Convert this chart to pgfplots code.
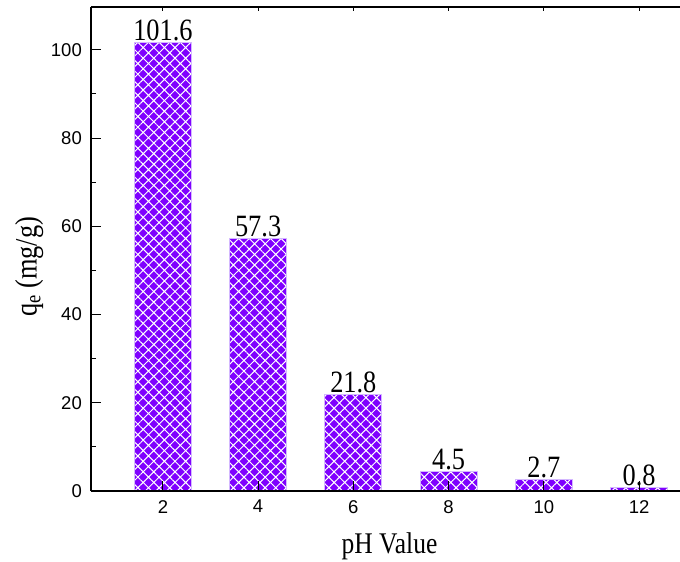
\documentclass[border=0pt]{standalone}
\usepackage{pgfplots}
\pgfplotsset{compat=1.18}
\usepackage{fontspec}
\setmainfont{Liberation Sans}
\newfontfamily\serif[FakeStretch=0.85]{Liberation Serif}
\usetikzlibrary{patterns.meta}
\definecolor{barpurple}{HTML}{7F00FF}
\definecolor{barborder}{HTML}{D4B8FF}
\begin{document}
\begin{tikzpicture}
\begin{axis}[
  name=ax,
  scale only axis,
  width=589pt, height=484pt,
  xmin=0.49, xmax=12.86,
  ymin=0, ymax=109.7,
  axis on top,
  axis x line*=box, axis y line*=left,
  xtick pos=bottom,
  xtick={2,4,6,8,10,12},
  ytick={0,20,40,60,80,100},
  minor y tick num=1,
  tick align=inside,
  major tick length=10pt,
  minor tick length=5pt,
  tick style={black, line width=1pt},
  axis line style={black, line width=1.3pt},
  /pgf/number format/assume math mode=true,
  ticklabel style={font=\fontsize{18.5}{20}\selectfont},
  xticklabel style={inner sep=0pt, anchor=north, yshift=-9pt},
  yticklabel style={inner sep=0pt, anchor=east, xshift=-9pt},
  xlabel={pH Value},
  xlabel style={font=\serif\fontsize{30}{30}\selectfont, at={(axis description cs:0.5,0)}, anchor=base, yshift=-62pt, xshift=4pt},
  ylabel={q\textsubscript{e} (mg/g)},
  ylabel style={font=\serif\fontsize{31}{31}\selectfont, at={(axis description cs:-0.105,0.463)}, anchor=center, rotate=0},
  point meta=explicit symbolic,
  nodes near coords,
  every node near coord/.style={font=\serif\fontsize{31}{31}\selectfont, anchor=south, inner sep=1pt, black},
]
\addplot[ybar, bar width=57pt, fill=barpurple, draw=barborder, line width=0.8pt,
  postaction={pattern={Hatch[angle=45,distance=7.5pt,line width=1pt]}, pattern color=white}]
  coordinates {(2,101.6)[101.6] (4,57.3)[57.3] (6,21.8)[21.8] (8,4.5)[4.5] (10,2.7)[2.7] (12,0.8)[0.8]};
\end{axis}
\begin{axis}[
  scale only axis,
  width=589pt, height=484pt,
  xmin=0.49, xmax=12.86,
  ymin=0, ymax=109.7,
  axis x line*=top, hide y axis,
  axis line style={draw=none},
  xtick={2,4,6,8,10,12}, xticklabels={},
  tick align=inside,
  major tick length=4pt,
  tick style={black, line width=1pt},
]
\addplot[draw=none] coordinates {(2,0)};
\end{axis}
\pgfresetboundingbox
\path ([shift={(-91pt,-71pt)}]ax.south west) rectangle ([shift={(0pt,7pt)}]ax.north east);
\end{tikzpicture}
\end{document}
